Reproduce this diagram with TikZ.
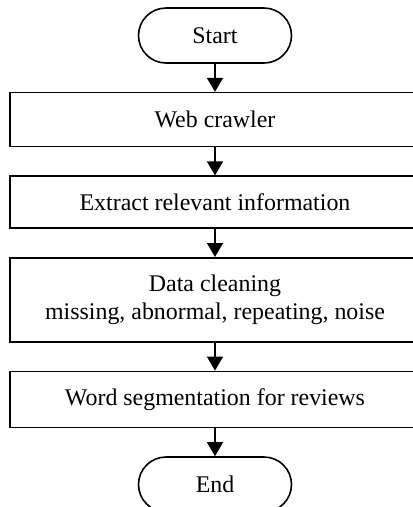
\documentclass[tikz,border=0pt]{standalone}
\usepackage{fontspec}
\setmainfont{Liberation Serif}
\usetikzlibrary{positioning,arrows.meta}

\begin{document}
\begin{tikzpicture}[x=1pt,y=1pt,
        node distance=28pt,
        every node/.style={font=\fontsize{23.9}{28}\selectfont, line width=1.6pt},
        term/.style={draw, rounded corners=27.5pt, minimum width=153pt, minimum height=55pt},
        stage/.style={draw, minimum width=410pt, minimum height=54pt, align=center},
        flow/.style={-{Triangle[length=14pt,width=16pt]}, line width=1.6pt}]
            \useasboundingbox (0,0) rectangle (413,-507);

            \node[term] (start) at (215,-35.5) {Start};
            \node[stage, below=of start] (crawl) {Web crawler};
            \node[stage, below=of crawl, minimum height=52pt] (extr) {Extract relevant information};
            \node[stage, below=of extr, minimum height=84pt] (clean) {Data cleaning\\missing, abnormal, repeating, noise};
            \node[stage, below=of clean, minimum height=56pt] (seg) {Word segmentation for reviews};
            \node[term, below=of seg] (stop) {End};

            % arrows between the steps
            \draw[flow] (start) -- (crawl);
            \draw[flow] (crawl) -- (extr);
            \draw[flow] (extr) -- (clean);
            \draw[flow] (clean) -- (seg);
            \draw[flow] (seg) -- (stop);
        \end{tikzpicture}
\end{document}
